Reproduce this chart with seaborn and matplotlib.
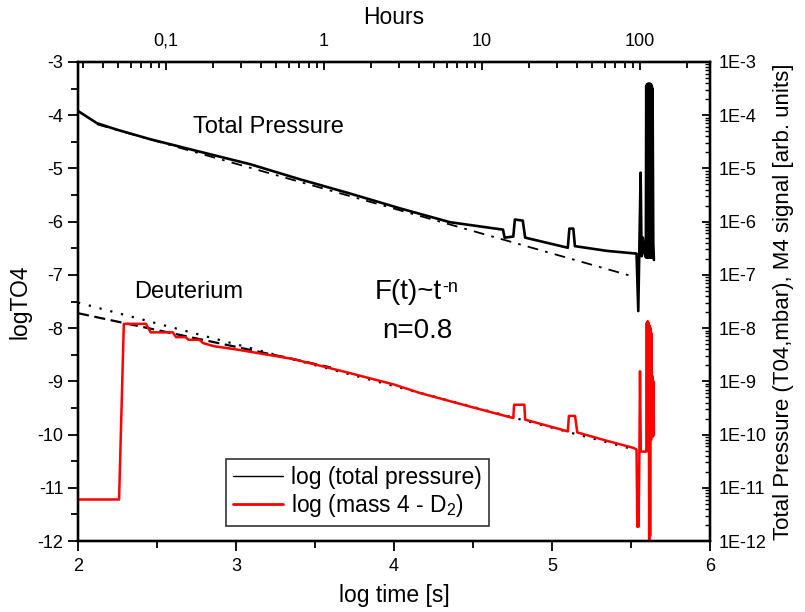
#!/usr/bin/env python3

import matplotlib

matplotlib.use("Agg")

import matplotlib.pyplot as plt
from matplotlib.lines import Line2D
from matplotlib.ticker import FixedLocator, LogLocator, MultipleLocator, NullFormatter
from seaborn import lineplot, set_style

# total pressure, log10 values
TP_X = [2.00, 2.12, 2.245, 2.456, 2.75, 3.089, 3.40, 3.72, 4.05, 4.354,
        4.69, 4.70, 4.755, 4.765, 4.815, 4.83, 5.10, 5.11, 5.135, 5.145,
        5.35, 5.535, 5.546, 5.561, 5.567, 5.575, 5.585, 5.594, 5.5965,
        5.599, 5.6015, 5.604, 5.6065, 5.609, 5.6115, 5.614, 5.6165, 5.619,
        5.6215, 5.624, 5.6265, 5.629, 5.6315, 5.634, 5.6365, 5.641, 5.645]
TP_Y = [-3.92, -4.15, -4.27, -4.45, -4.67, -4.92, -5.20, -5.47, -5.76, -6.01,
        -6.15, -6.30, -6.28, -5.96, -5.98, -6.30, -6.49, -6.13, -6.13, -6.46,
        -6.55, -6.60, -7.68, -5.08, -6.65, -6.30, -6.60, -6.67, -3.45,
        -6.67, -3.42, -6.67, -3.41, -6.67, -3.41, -6.67, -3.41, -6.67,
        -3.41, -6.67, -3.42, -6.67, -3.45, -6.67, -3.50, -6.40, -6.72]

# mass 4 (deuterium)
D2_X = [2.00, 2.26, 2.29, 2.43, 2.46, 2.60, 2.62, 2.68, 2.70, 2.77, 2.79,
        2.86, 3.00, 3.36, 3.70, 4.00, 4.165, 4.50, 4.755, 4.76, 4.825, 4.83,
        5.10, 5.107, 5.146, 5.16, 5.35, 5.515, 5.535, 5.540, 5.545, 5.548,
        5.553, 5.557, 5.562, 5.595, 5.597, 5.600, 5.603, 5.606, 5.609,
        5.612, 5.615, 5.618, 5.621, 5.624, 5.627, 5.630, 5.633, 5.636,
        5.639, 5.642, 5.645]
D2_Y = [-11.22, -11.22, -7.92, -7.92, -8.08, -8.08, -8.17, -8.17, -8.22,
        -8.22, -8.28, -8.34, -8.40, -8.58, -8.83, -9.06, -9.22, -9.49, -9.69,
        -9.44, -9.44, -9.72, -9.94, -9.65, -9.65, -9.96, -10.12, -10.25,
        -10.28, -11.73, -11.50, -11.73, -10.40, -8.81, -10.32, -10.32,
        -10.32, -7.90, -10.30, -7.87, -10.20, -7.90, -11.98, -7.95, -11.90,
        -8.00, -10.10, -8.10, -10.00, -8.90, -10.04, -9.00, -10.00]

# fits
TP_FIT_X = [2.12, 5.525]
TP_FIT_Y = [-4.17, -7.04]
D2_DOT_X = [2.00, 5.52]
D2_DOT_Y = [-7.52, -10.28]
D2_DASH_X = [2.00, 3.36, 3.60]
D2_DASH_Y = [-7.72, -8.58, -8.74]

X_TICKS = [2, 3, 4, 5, 6]
Y_TICKS = [-3, -4, -5, -6, -7, -8, -9, -10, -11, -12]
HOUR_TICKS = [0.1, 1, 10, 100]
HOUR_LABELS = ["0,1", "1", "10", "100"]
RIGHT_TICKS = [1e-3, 1e-4, 1e-5, 1e-6, 1e-7, 1e-8, 1e-9, 1e-10, 1e-11, 1e-12]
RIGHT_LABELS = ["1E-3", "1E-4", "1E-5", "1E-6", "1E-7", "1E-8", "1E-9",
                "1E-10", "1E-11", "1E-12"]
LEGEND_LABELS = ["log (total pressure)", r"log (mass 4 - D$_{\mathregular{2}}$)"]


def main():
    set_style("ticks")
    plt.rcParams["font.family"] = ["Liberation Sans", "DejaVu Sans"]
    plt.rcParams["axes.unicode_minus"] = False
    plt.rcParams["mathtext.fontset"] = "custom"
    plt.rcParams["mathtext.rm"] = "Liberation Sans"
    for key in ["text.color", "axes.labelcolor", "xtick.color", "ytick.color",
                "axes.edgecolor"]:
        plt.rcParams[key] = "black"

    fig = plt.figure(figsize=(8.05, 6.12), dpi=100)
    ax = fig.add_axes([78 / 805, 71 / 612, 632 / 805, 479 / 612])

    lineplot(x=TP_FIT_X, y=TP_FIT_Y, estimator=None, sort=False, color="black",
             lw=1.3, ls=(0, (6, 4, 1.5, 4)), ax=ax)
    lineplot(x=D2_DOT_X, y=D2_DOT_Y, estimator=None, sort=False, color="black",
             lw=1.6, ls=(0, (1, 4)), ax=ax)
    lineplot(x=D2_DASH_X, y=D2_DASH_Y, estimator=None, sort=False, color="black",
             lw=1.6, ls=(0, (5, 2.5)), ax=ax)
    lineplot(x=D2_X, y=D2_Y, estimator=None, sort=False, color="red", lw=1.8,
             ax=ax)
    lineplot(x=TP_X, y=TP_Y, estimator=None, sort=False, color="black", lw=1.9,
             solid_joinstyle="round", solid_capstyle="round", ax=ax)

    ax.set_xlim(2, 6)
    ax.set_ylim(-12, -3)
    ax.set_xticks(X_TICKS)
    ax.set_yticks(Y_TICKS)
    ax.xaxis.set_minor_locator(MultipleLocator(0.5))
    ax.yaxis.set_minor_locator(MultipleLocator(0.5))
    ax.tick_params(which="major", direction="out", length=7.5, width=1.3,
                   labelsize=13, pad=3)
    ax.tick_params(which="minor", direction="out", length=5, width=1.3)
    ax.tick_params(axis="x", pad=5)
    ax.set_xlabel("log time [s]", fontsize=16.5, labelpad=6)
    ax.set_ylabel("logTO4", fontsize=16.5, labelpad=4)

    ax.text(2.73, -4.22, "Total Pressure", fontsize=17, va="center")
    ax.text(2.354, -7.33, "Deuterium", fontsize=17, va="center")
    ft = ax.text(3.88, -7.33, "F(t)~t", fontsize=20, ha="left", va="center")
    ax.annotate("-n", xy=(1.0, 1.0), xycoords=ft, xytext=(0.3, 0),
                textcoords="offset points", fontsize=13, ha="left", va="top")
    ax.text(4.15, -8.06, "n=0.8", fontsize=20, ha="center", va="center")

    ax.legend(handles=[Line2D([], [], color="black", lw=1),
                       Line2D([], [], color="red", lw=2)],
              labels=LEGEND_LABELS, loc="lower left",
              bbox_to_anchor=(0.234, 0.031), borderaxespad=0, fontsize=16.5,
              frameon=True, fancybox=False, edgecolor="#333333",
              framealpha=1, handlelength=2.2, handletextpad=0.35,
              borderpad=0.3, labelspacing=0.15)
    ax.get_legend().get_frame().set_linewidth(1.2)

    axr = ax.twinx()
    axr.set_yscale("log")
    axr.set_ylim(1e-12, 1e-3)
    axr.yaxis.set_major_locator(FixedLocator(RIGHT_TICKS))
    axr.set_yticklabels(RIGHT_LABELS)
    axr.yaxis.set_minor_locator(LogLocator(base=10, subs=range(2, 10),
                                           numticks=50))
    axr.yaxis.set_minor_formatter(NullFormatter())
    axr.tick_params(which="major", direction="in", length=6, width=1.3,
                    labelsize=13, pad=6)
    axr.tick_params(which="minor", direction="in", length=3.5, width=1.0)
    axr.set_ylabel("Total Pressure (T04,mbar), M4 signal [arb. units]",
                   fontsize=16, labelpad=5)

    axt = ax.twiny()
    axt.set_xscale("log")
    axt.set_xlim(100 / 3600, 1e6 / 3600)
    axt.xaxis.set_major_locator(FixedLocator(HOUR_TICKS))
    axt.set_xticklabels(HOUR_LABELS)
    axt.xaxis.set_minor_locator(LogLocator(base=10, subs=range(2, 10),
                                           numticks=50))
    axt.xaxis.set_minor_formatter(NullFormatter())
    axt.tick_params(which="major", direction="in", length=6, width=1.3,
                    labelsize=13, pad=9)
    axt.tick_params(which="minor", direction="in", length=4, width=1.3)
    axt.set_xlabel("Hours", fontsize=16.5, labelpad=6)

    for a in [ax, axr, axt]:
        for spine in a.spines.values():
            spine.set_linewidth(1.6)
            spine.set_color("black")

    fig.savefig("out.png", dpi=100)
    plt.close(fig)


if __name__ == "__main__":
    main()
